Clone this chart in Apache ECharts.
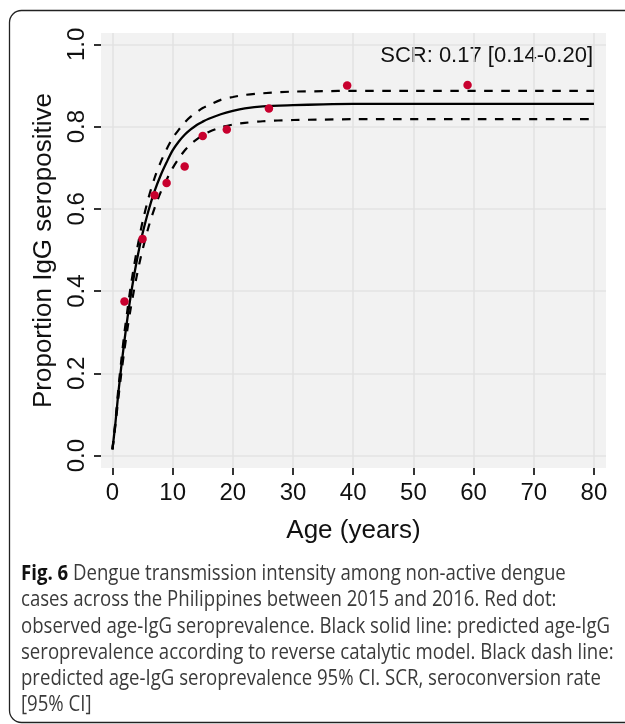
<!DOCTYPE html>
<html>
<head>
<meta charset="utf-8">
<script src="https://cdn.jsdelivr.net/npm/echarts@6/dist/echarts.min.js"></script>
<style>
html,body{margin:0;padding:0;background:#fff;}
#c{width:625px;height:724px;}
</style>
</head>
<body>
<div id="c"></div>
<script>
// ---- data ----
const fitAges   = [0, 0.5, 1, 1.5, 2, 2.5, 3, 3.5, 4, 4.5, 5, 6, 7, 8, 9, 10, 11, 12, 13, 14, 15, 16, 18, 20, 22, 25, 30, 35, 40, 50, 60, 70, 80];
const fitMid    = [0.015, 0.08, 0.155, 0.22, 0.28, 0.335, 0.385, 0.43, 0.47, 0.507, 0.54, 0.596, 0.643, 0.681, 0.713, 0.742, 0.763, 0.78, 0.793, 0.804, 0.812, 0.819, 0.83, 0.838, 0.844, 0.849, 0.852, 0.854, 0.855, 0.855, 0.855, 0.855, 0.855];
const fitUpper  = [0.015, 0.085, 0.165, 0.235, 0.30, 0.355, 0.408, 0.453, 0.495, 0.533, 0.568, 0.627, 0.675, 0.713, 0.745, 0.772, 0.792, 0.81, 0.824, 0.835, 0.845, 0.852, 0.865, 0.872, 0.877, 0.881, 0.885, 0.886, 0.887, 0.887, 0.887, 0.887, 0.887];
const fitLower  = [0.015, 0.075, 0.142, 0.203, 0.258, 0.309, 0.355, 0.396, 0.434, 0.469, 0.50, 0.556, 0.602, 0.64, 0.671, 0.699, 0.722, 0.742, 0.757, 0.769, 0.779, 0.787, 0.798, 0.805, 0.809, 0.813, 0.816, 0.817, 0.818, 0.818, 0.818, 0.818, 0.818];
const obsAge    = [2, 5, 7, 9, 12, 15, 19, 26, 39, 59];
const obsProp   = [0.375, 0.527, 0.633, 0.663, 0.703, 0.777, 0.793, 0.844, 0.900, 0.901];
const xTicks    = [0, 10, 20, 30, 40, 50, 60, 70, 80];
const yTicks    = [0, 0.2, 0.4, 0.6, 0.8, 1.0];
const xTitle    = 'Age (years)';
const yTitle    = 'Proportion IgG seropositive';
const scrLabel  = 'SCR: 0.17 [0.14-0.20]';
const figLabel  = 'Fig. 6';
const captionLines = [
  'Dengue transmission intensity among non-active dengue',
  'cases across the Philippines between 2015 and 2016. Red dot:',
  'observed age-IgG seroprevalence. Black solid line: predicted age-IgG',
  'seroprevalence according to reverse catalytic model. Black dash line:',
  'predicted age-IgG seroprevalence 95% CI. SCR, seroconversion rate',
  '[95% CI]'
];

// ---- caption horizontal fit ----
const capFont = "21px 'Open Sans'";
const mctx = document.createElement('canvas').getContext('2d');
mctx.font = capFont;
const capLeft = 21, capRight = 610;
const capScale = (capRight - capLeft) / mctx.measureText(captionLines[2]).width;

const chartFont = 'Liberation Sans';
const pair = (xs, ys) => xs.map((x, i) => [x, ys[i]]);

const chart = echarts.init(document.getElementById('c'), null, {renderer: 'canvas'});

const captionEls = captionLines.map((t, i) => ({
  type: 'text',
  x: capLeft,
  y: 574 + i * 26.3,
  scaleX: capScale,
  originX: 0,
  silent: true,
  style: {
    text: i === 0 ? '{b|' + figLabel + '} ' + t : t,
    fontSize: 21,
    fontFamily: 'Open Sans',
    fill: '#3a3a3a',
    align: 'left', textAlign: 'left',
    verticalAlign: 'middle', textVerticalAlign: 'middle',
    rich: {
      b: {fontSize: 21, fontFamily: 'Open Sans', fontWeight: 'bold', fill: '#111'}
    }
  }
}));

const fitLine = (ys, dashed) => ({
  type: 'line', data: pair(fitAges, ys), smooth: 0.3, symbol: 'none', silent: true,
  z: dashed ? 2 : 3,
  lineStyle: dashed ? {color: '#000', width: 2.2, type: [8.5, 8.5]} : {color: '#000', width: 2.3}
});

chart.setOption({
  animation: false,
  backgroundColor: '#fff',
  grid: {
    left: 101, right: 19, top: 33, bottom: 256,
    show: true, backgroundColor: '#f2f2f2', borderWidth: 0,
    containLabel: false
  },
  xAxis: {
    type: 'value',
    min: -1.9, max: 82,
    splitNumber: 8,
    axisLine: {show: false, onZero: false},
    axisTick: {show: true, customValues: xTicks, length: 7, lineStyle: {color: '#333', width: 2}},
    axisLabel: {customValues: xTicks, fontSize: 24, fontFamily: chartFont, color: '#111', margin: 13},
    splitLine: {show: true, lineStyle: {color: '#e3e3e3', width: 1.6}},
    name: xTitle,
    nameLocation: 'middle',
    nameGap: 50,
    nameTextStyle: {fontSize: 26, fontFamily: chartFont, color: '#111'}
  },
  yAxis: {
    type: 'value',
    min: -0.03, max: 1.0275,
    splitNumber: 5,
    axisLine: {show: false, onZero: false},
    axisTick: {show: true, customValues: yTicks, length: 7, lineStyle: {color: '#333', width: 2}},
    axisLabel: {customValues: yTicks, rotate: 90, fontSize: 24, fontFamily: chartFont, color: '#111', margin: 12,
                formatter: v => Number(v).toFixed(1)},
    splitLine: {show: true, lineStyle: {color: '#e3e3e3', width: 1.6}},
    name: yTitle,
    nameLocation: 'middle',
    nameGap: 33,
    nameTextStyle: {fontSize: 26, fontFamily: chartFont, color: '#111'}
  },
  series: [
    fitLine(fitLower, true),
    fitLine(fitUpper, true),
    fitLine(fitMid, false),
    {type: 'scatter', data: pair(obsAge, obsProp), symbol: 'circle', symbolSize: 8.5,
     itemStyle: {color: '#c8002e', opacity: 1}, silent: true, z: 5}
  ],
  graphic: [
    {type: 'rect', silent: true, z: 100,
     shape: {x: 9.5, y: 10.5, width: 700, height: 712, r: 12},
     style: {fill: 'none', stroke: '#222', lineWidth: 1.3}},
    {type: 'text', silent: true, x: 593, y: 56,
     style: {text: scrLabel, fontSize: 22, fontFamily: chartFont, fill: '#111',
             align: 'right', textAlign: 'right', verticalAlign: 'middle', textVerticalAlign: 'middle'}}
  ].concat(captionEls)
});
</script>
</body>
</html>
